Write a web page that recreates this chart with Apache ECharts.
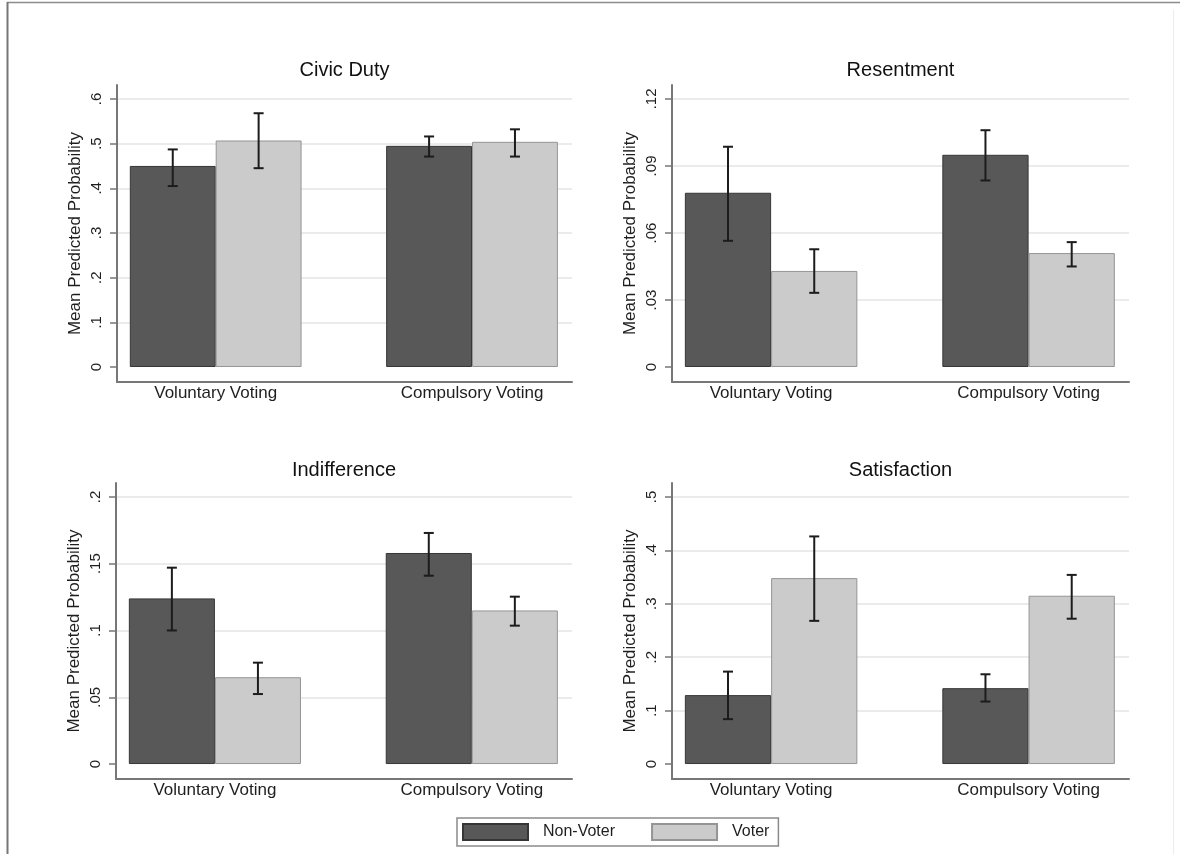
<!DOCTYPE html>
<html>
<head>
<meta charset="utf-8">
<script src="https://cdn.jsdelivr.net/npm/echarts@6/dist/echarts.min.js"></script>
<style>
  html, body { margin: 0; padding: 0; background: #ffffff; }
  #chart { width: 1180px; height: 854px; }
</style>
</head>
<body>
<div id="chart"></div>
<script>
// ---- data -------------------------------------------------------------
const categories = ['Voluntary Voting', 'Compulsory Voting'];
const seriesNames = ['Non-Voter', 'Voter'];
const panelTitles = ['Civic Duty', 'Resentment', 'Indifference', 'Satisfaction'];

// mean predicted probability per category (Voluntary, Compulsory)
const civicNonVoter = [0.450, 0.495];
const civicVoter = [0.507, 0.504];
const resentNonVoter = [0.078, 0.095];
const resentVoter = [0.043, 0.051];
const indiffNonVoter = [0.124, 0.158];
const indiffVoter = [0.065, 0.115];
const satisNonVoter = [0.129, 0.142];
const satisVoter = [0.348, 0.315];

// confidence interval [low, high] per category
const civicNonVoterCI = [[0.405, 0.487], [0.471, 0.516]];
const civicVoterCI = [[0.445, 0.568], [0.471, 0.532]];
const resentNonVoterCI = [[0.0565, 0.0986], [0.0835, 0.106]];
const resentVoterCI = [[0.0332, 0.0527], [0.0450, 0.0559]];
const indiffNonVoterCI = [[0.100, 0.147], [0.141, 0.173]];
const indiffVoterCI = [[0.0524, 0.0759], [0.1036, 0.1253]];
const satisNonVoterCI = [[0.084, 0.173], [0.117, 0.168]];
const satisVoterCI = [[0.268, 0.426], [0.272, 0.354]];

// y-axis tick values per panel
const civicTicks = [0, 0.1, 0.2, 0.3, 0.4, 0.5, 0.6];
const resentTicks = [0, 0.03, 0.06, 0.09, 0.12];
const indiffTicks = [0, 0.05, 0.1, 0.15, 0.2];
const satisTicks = [0, 0.1, 0.2, 0.3, 0.4, 0.5];

// ---- layout & style ---------------------------------------------------
const FONT = '"Liberation Sans", Arial, Helvetica, sans-serif';
const DARK = '#585858', DARK_EDGE = '#363636';
const LIGHT = '#cbcbcb', LIGHT_EDGE = '#959595';
const AXIS_COLOR = '#777777';
const GRID_COLOR = '#e4e4e4';
const BAR_FRACTION = 0.335;   // bar width as a share of the category spacing
const X_MIN = -0.385, X_MAX = 1.39;

const grids = [
  { left: 117, top: 85, width: 455, height: 297 },
  { left: 672, top: 85, width: 457, height: 297 },
  { left: 116, top: 483, width: 456, height: 296 },
  { left: 672, top: 483, width: 457, height: 296 }
];
const titleY = [70, 70, 470, 470];

const panels = [
  { ticks: civicTicks, nv: civicNonVoter, v: civicVoter, nvCI: civicNonVoterCI, vCI: civicVoterCI },
  { ticks: resentTicks, nv: resentNonVoter, v: resentVoter, nvCI: resentNonVoterCI, vCI: resentVoterCI },
  { ticks: indiffTicks, nv: indiffNonVoter, v: indiffVoter, nvCI: indiffNonVoterCI, vCI: indiffVoterCI },
  { ticks: satisTicks, nv: satisNonVoter, v: satisVoter, nvCI: satisNonVoterCI, vCI: satisVoterCI }
];

function fmtTick(v) {
  return String(v).replace(/^0\./, '.');
}

// error bar with caps, shifted onto the left or right bar of the group
function renderErrorBar(params, api) {
  const x = api.value(0), lo = api.value(1), hi = api.value(2), side = api.value(3);
  const barW = api.size([BAR_FRACTION, 0])[0];
  const pLo = api.coord([x, lo]);
  const pHi = api.coord([x, hi]);
  const cx = pLo[0] + (side - 0.5) * barW;
  const cap = 5;
  const style = { stroke: '#1c1c1c', lineWidth: 2, fill: null };
  return {
    type: 'group',
    children: [
      { type: 'line', shape: { x1: cx, y1: pLo[1], x2: cx, y2: pHi[1] }, style },
      { type: 'line', shape: { x1: cx - cap, y1: pHi[1], x2: cx + cap, y2: pHi[1] }, style },
      { type: 'line', shape: { x1: cx - cap, y1: pLo[1], x2: cx + cap, y2: pLo[1] }, style }
    ]
  };
}

const xAxes = [], yAxes = [], series = [], graphics = [];

panels.forEach((p, i) => {
  const top = p.ticks[p.ticks.length - 1];
  xAxes.push({
    type: 'value', gridIndex: i, min: X_MIN, max: X_MAX,
    axisLine: { show: true, onZero: false, lineStyle: { color: AXIS_COLOR, width: 2 } },
    axisTick: { show: false },
    splitLine: { show: false },
    axisLabel: {
      customValues: categories.map((c, k) => k),
      formatter: v => categories[Math.round(v)],
      margin: 3, fontSize: 17, color: '#1e1e1e', fontFamily: FONT
    }
  });
  yAxes.push({
    type: 'value', gridIndex: i,
    min: -0.056 * top, max: 1.052 * top,
    name: 'Mean Predicted Probability', nameLocation: 'middle', nameRotate: 90, nameGap: 33,
    nameTextStyle: { fontSize: 17, color: '#1e1e1e', fontFamily: FONT },
    axisLine: { show: true, onZero: false, lineStyle: { color: AXIS_COLOR, width: 2 } },
    axisTick: { show: true, length: 7, customValues: p.ticks, lineStyle: { color: AXIS_COLOR, width: 1.5 } },
    axisLabel: {
      customValues: p.ticks, formatter: fmtTick, rotate: 90, margin: 13,
      fontSize: 15, color: '#1e1e1e', fontFamily: FONT
    },
    splitLine: {
      show: true,
      lineStyle: { color: p.ticks.map((t, k) => (k === 0 ? 'rgba(0,0,0,0)' : GRID_COLOR)), width: 1.5 }
    }
  });
  series.push({
    name: seriesNames[0], type: 'bar', xAxisIndex: i, yAxisIndex: i,
    barWidth: (BAR_FRACTION * 100) + '%', barGap: '0%',
    itemStyle: { color: DARK, borderColor: DARK_EDGE, borderWidth: 1 },
    data: p.nv.map((v, k) => [k, v]), silent: true
  });
  series.push({
    name: seriesNames[1], type: 'bar', xAxisIndex: i, yAxisIndex: i,
    barWidth: (BAR_FRACTION * 100) + '%', barGap: '0%',
    itemStyle: { color: LIGHT, borderColor: LIGHT_EDGE, borderWidth: 1 },
    data: p.v.map((v, k) => [k, v]), silent: true
  });
  series.push({
    name: 'ci', type: 'custom', xAxisIndex: i, yAxisIndex: i, z: 5, silent: true,
    renderItem: renderErrorBar,
    encode: { x: 0, y: [1, 2] },
    data: p.nvCI.map((c, k) => [k, c[0], c[1], 0]).concat(p.vCI.map((c, k) => [k, c[0], c[1], 1]))
  });
  graphics.push({
    type: 'text',
    x: grids[i].left + grids[i].width / 2,
    y: titleY[i],
    style: {
      text: panelTitles[i], fill: '#111111',
      font: '20px ' + FONT, align: 'center', verticalAlign: 'middle'
    }
  });
});

// outer frame
graphics.push(
  { type: 'line', shape: { x1: 7, y1: 2.5, x2: 1180, y2: 2.5 }, style: { stroke: '#8c8c8c', lineWidth: 1.5 } },
  { type: 'line', shape: { x1: 7.5, y1: 2, x2: 7.5, y2: 854 }, style: { stroke: '#777777', lineWidth: 2 } },
  { type: 'line', shape: { x1: 1173.5, y1: 10, x2: 1173.5, y2: 854 }, style: { stroke: '#ececec', lineWidth: 1 } }
);

const chart = echarts.init(document.getElementById('chart'), null, { renderer: 'canvas' });
chart.setOption({
  animation: false,
  backgroundColor: '#ffffff',
  grid: grids,
  xAxis: xAxes,
  yAxis: yAxes,
  series: series,
  graphic: graphics,
  legend: {
    data: seriesNames,
    left: 457, top: 818,
    orient: 'horizontal',
    icon: 'rect',
    itemWidth: 65, itemHeight: 16, itemGap: 36,
    padding: [5, 9, 5, 5],
    borderColor: '#8a8a8a', borderWidth: 1.5,
    textStyle: { fontSize: 16, color: '#1e1e1e', fontFamily: FONT, padding: [0, 0, 0, 10] },
    selectedMode: false
  }
});
</script>
</body>
</html>
